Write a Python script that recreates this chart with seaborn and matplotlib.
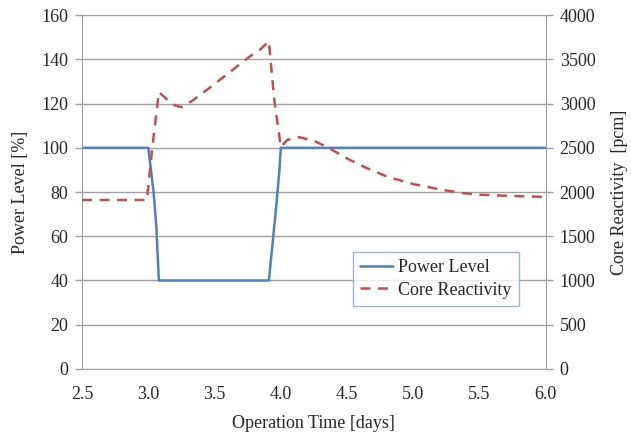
import numpy as np
import pandas as pd
import seaborn as sns
import matplotlib.pyplot as plt

# Power level [%] vs time [days]
power_t = [2.5, 3.0, 3.04, 3.06, 3.08, 3.5, 3.91, 3.96, 3.99, 4.0, 5.0, 6.0]
power_v = [100, 100, 80, 65, 40, 40, 40, 70, 90, 100, 100, 100]

# Core reactivity [pcm] vs time [days]
react_t = [2.5, 2.75, 2.99, 3.03, 3.08, 3.14, 3.2, 3.25, 3.33, 3.42, 3.52, 3.62,
           3.71, 3.8, 3.84, 3.91, 3.95, 4.0, 4.05, 4.14, 4.25, 4.36, 4.5, 4.65,
           4.81, 5.0, 5.2, 5.36, 5.5, 5.75, 6.0]
react_v = [1910, 1910, 1910, 2500, 3130, 3050, 2980, 2960, 3030, 3130, 3245, 3360,
           3470, 3570, 3605, 3706, 3050, 2510, 2590, 2620, 2580, 2500, 2380, 2270,
           2170, 2090, 2030, 1990, 1970, 1955, 1945]

df_p = pd.DataFrame({"t": power_t, "v": power_v})
df_r = pd.DataFrame({"t": react_t, "v": react_v})

sns.set_style("white")
plt.rcParams['font.family'] = ['Liberation Serif', 'DejaVu Serif']
fs = 13
grey = "#a0a0a0"

fig, ax = plt.subplots(figsize=(6.31, 4.34), dpi=100)
ax2 = ax.twinx()

sns.lineplot(data=df_p, x="t", y="v", ax=ax, color="#4f81bd", lw=1.8,
             label="Power Level", legend=False)
sns.lineplot(data=df_r, x="t", y="v", ax=ax2, color="#c0504d", lw=1.8,
             linestyle=(0, (4, 3)), label="Core Reactivity", legend=False)

ax.set_xlim(2.5, 6.0)
ax.set_ylim(0, 160)
ax2.set_ylim(0, 4000)
ax.set_xticks(np.arange(2.5, 6.01, 0.5))
ax.set_xticklabels([f"{v:.1f}" for v in np.arange(2.5, 6.01, 0.5)])
ax.set_yticks(range(0, 161, 20))
ax2.set_yticks(range(0, 4001, 500))

ax.yaxis.grid(True, color=grey, lw=1)
ax.set_axisbelow(True)

for a in (ax, ax2):
    for s in a.spines.values():
        s.set_visible(False)
    a.tick_params(axis="both", direction="out", length=5, width=1, color=grey,
                  labelsize=fs, pad=5)
ax.tick_params(axis="x", pad=7)
ax.spines["left"].set_visible(True)
ax.spines["bottom"].set_visible(True)
ax2.spines["right"].set_visible(True)
for s in ("left", "bottom"):
    ax.spines[s].set_color(grey)
ax2.spines["right"].set_color(grey)

ax.set_xlabel("Operation Time [days]", fontsize=fs, labelpad=9)
ax.set_ylabel("Power Level [%]", fontsize=fs, labelpad=9)
ax2.set_ylabel("Core Reactivity  [pcm]", fontsize=fs, labelpad=11)

h1, l1 = ax.get_legend_handles_labels()
h2, l2 = ax2.get_legend_handles_labels()
leg = ax2.legend(h1 + h2, l1 + l2, loc="upper left",
                 bbox_to_anchor=(0.584, 0.33),
                 fontsize=fs, frameon=True, fancybox=False, handlelength=1.8,
                 handletextpad=0.3, borderpad=0.4, labelspacing=0.3,
                 borderaxespad=0)
leg.get_frame().set_edgecolor("#7fa3d4")
leg.get_frame().set_linewidth(1)

plt.subplots_adjust(left=0.13, right=0.865, top=0.965, bottom=0.15)
plt.savefig("out.png", dpi=100)
